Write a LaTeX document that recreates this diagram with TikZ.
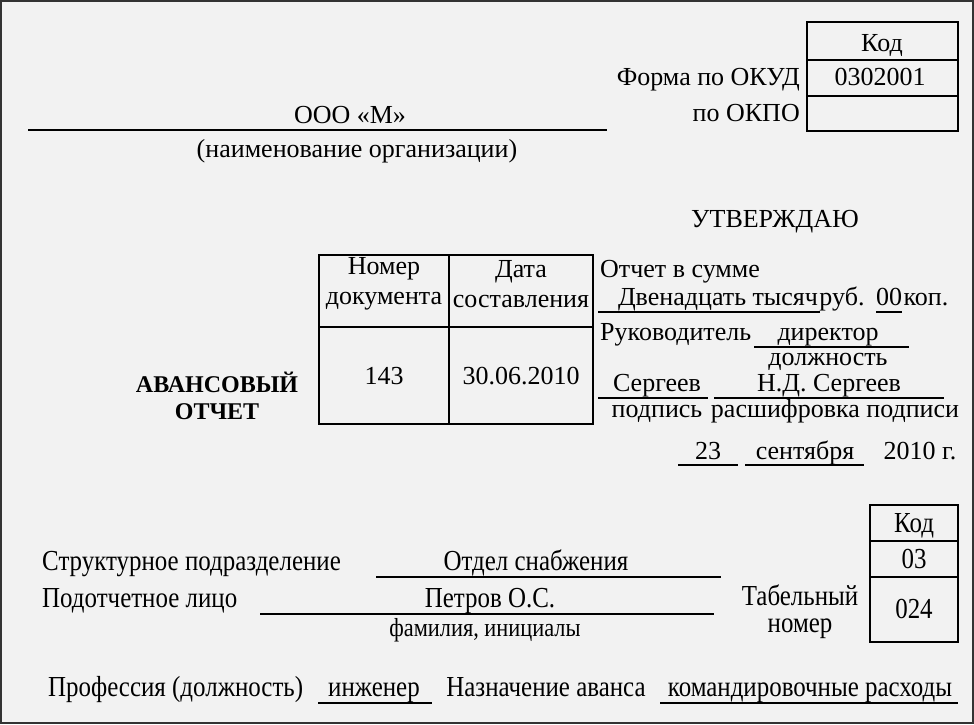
\documentclass[tikz,border=0pt]{standalone}
\usepackage{fontspec}
\setmainfont{Liberation Serif}
\newfontfamily\cond[FakeStretch=0.86]{Liberation Serif}
\begin{document}
\begin{tikzpicture}[x=1pt,y=-1pt,
  t/.style={inner sep=0pt,anchor=base,font=\fontsize{26}{30}\selectfont},
  tm/.style={inner sep=0pt,font=\fontsize{26}{30}\selectfont},
  tc/.style={inner sep=0pt,anchor=base,font=\cond\fontsize{29}{32}\selectfont},
  tl/.style={t,anchor=base west},
  tr/.style={t,anchor=base east},
  ln/.style={line width=1.2pt},
  bx/.style={line width=1.3pt}]
\fill[white!95!black] (0,0) rectangle (974,724);
\draw[line width=2pt,black!80] (1,1) rectangle (973,723);
% top right box
\draw[bx] (807,22) rectangle (958,131);
\draw[bx] (807,60) -- (958,60) (807,96) -- (958,96);
\node[t] (kod1) at (882,51) {Код};
\node[t] (okud) at (880,85) {0302001};
\node[tr] (fo) at (800,85) {Форма по ОКУД};
\node[tr] (okpo) at (800,121) {по ОКПО};
\node[t] (org) at (350,123) {ООО «М»};
\draw[ln] (28,130) -- (607,130);
\node[t] (orgl) at (357,157) {(наименование организации)};
\node[t] (utv) at (775,227) {УТВЕРЖДАЮ};
% left table
\draw[bx] (319,255) rectangle (593,424);
\draw[bx] (449,255) -- (449,424) (319,327) -- (593,327);
\node[tm,align=center] (h1) at (384,284) {Номер\\документа};
\node[tm,align=center] (h2) at (521,284) {Дата\\составления};
\node[t] (n1) at (384,384) {143};
\node[t] (n2) at (521,384) {30.06.2010};
\node[inner sep=0pt,font=\bfseries\fontsize{24}{27}\selectfont,align=center] (av) at (217,396) {АВАНСОВЫЙ\\ОТЧЕТ};
% approval
\node[tl] (sum) at (600,277) {Отчет в сумме};
\node[t] (s1) at (718,305) {Двенадцать тысяч};
\draw[ln] (598,312) -- (820,312);
\node[t] (rub) at (842,305) {руб.};
\node[t] (s2) at (889,305) {00};
\draw[ln] (876,312) -- (902,312);
\node[t] (kop) at (926,305) {коп.};
\node[tl] (ruk) at (600,340) {Руководитель};
\node[t] (dir) at (828,340) {директор};
\draw[ln] (754,347) -- (909,347);
\node[t] (dol) at (828,365) {должность};
\node[t] (sg1) at (657,391) {Сергеев};
\draw[ln] (598,398) -- (708,398);
\node[t] (sg2) at (829,391) {Н.Д. Сергеев};
\draw[ln] (714,398) -- (944,398);
\node[t] (pod) at (657,417) {подпись};
\node[t] (ras) at (835,417) {расшифровка подписи};
\node[t] (d23) at (708,459) {23};
\draw[ln] (678,465) -- (738,465);
\node[t] (sen) at (805,459) {сентября};
\draw[ln] (745,465) -- (864,465);
\node[t] (god) at (920,459) {2010 г.};
% bottom box
\draw[bx] (870,505) rectangle (958,642);
\draw[bx] (870,541) -- (958,541) (870,577) -- (958,577);
\node[tc] (kod2) at (914,532) {Код};
\node[tc] (c03) at (914,568) {03};
\node[tc] (c024) at (914,618) {024};
\node[inner sep=0pt,font=\cond\fontsize{29}{27}\selectfont,align=center] (tab) at (800,612) {Табельный\\номер};
\node[tc,anchor=base west] (str) at (42,570) {Структурное подразделение};
\node[tc] (otd) at (536,570) {Отдел снабжения};
\draw[ln] (376,577) -- (721,577);
\node[tc,anchor=base west] (pl) at (42,607) {Подотчетное лицо};
\node[tc] (pet) at (490,607) {Петров О.С.};
\draw[ln] (260,614) -- (714,614);
\node[tc,font=\cond\fontsize{26}{28}\selectfont] (fam) at (485,636) {фамилия, инициалы};
\node[tc,anchor=base west] (prof) at (48,696) {Профессия (должность)};
\node[tc] (ing) at (374,696) {инженер};
\draw[ln] (318,703) -- (432,703);
\node[tc] (naz) at (546,696) {Назначение аванса};
\node[tc] (kom) at (810,696) {командировочные расходы};
\draw[ln] (660,703) -- (958,703);
\end{tikzpicture}
\end{document}
